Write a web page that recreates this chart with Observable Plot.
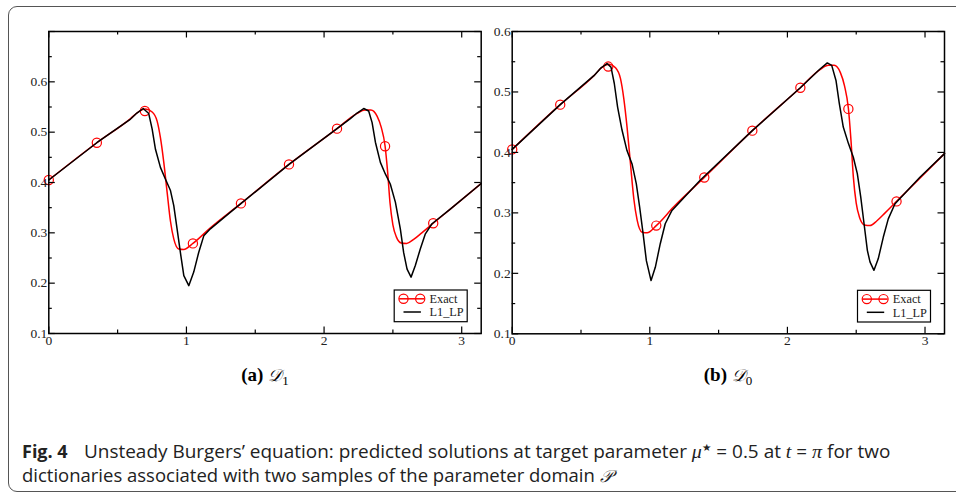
<!DOCTYPE html>
<html>
<head>
<meta charset="utf-8">
<script src="https://cdn.jsdelivr.net/npm/d3@7"></script>
<script src="https://cdn.jsdelivr.net/npm/@observablehq/plot@0.6"></script>
<style>
  html, body { margin: 0; padding: 0; background: #fff; }
  #page { position: relative; width: 956px; height: 497px; overflow: hidden; background: #fff; }
  #border { position: absolute; left: 7.5px; top: 5.5px; width: 990px; height: 486px;
            border: 1.3px solid #555; border-radius: 9px; box-sizing: border-box; }
  .panel { position: absolute; top: 0; }
  .sublabel { position: absolute; top: 364px; width: 300px; text-align: center;
              font-family: "Liberation Serif", serif; font-size: 19px; color: #000; }
  .sublabel b { font-weight: bold; }
  .script { font-family: "DejaVu Serif", "DejaVu Sans", serif; font-style: italic; font-size: 17px; }
  .capline { position: absolute; left: 22px; font-family: "Open Sans", sans-serif;
             font-size: 18px; line-height: 20px; height: 20px; color: #222; white-space: nowrap; }
  .rest { display: inline-block; transform-origin: 0 0; }
  .m { font-family: "Liberation Serif", serif; font-style: italic; font-size: 19px; }
</style>
</head>
<body>
<div id="page">
  <div id="border"></div>
  <div id="left" class="panel" style="left:0px"></div>
  <div id="right" class="panel" style="left:470px"></div>
  <div class="sublabel" style="left:115px"><b>(a)</b> <span class="script">𝒟</span><span style="font-size:13px;position:relative;top:4px">1</span></div>
  <div class="sublabel" style="left:578px"><b>(b)</b> <span class="script">𝒟</span><span style="font-size:13px;position:relative;top:4px">0</span></div>
  <div class="capline" style="top:441px"><b style="font-weight:700">Fig. 4</b><span style="display:inline-block;width:16px"></span><span class="rest" id="r1">Unsteady Burgers’ equation: predicted solutions at target parameter <span class="m">μ</span><span style="font-size:10px;position:relative;top:-7px">★</span> = 0.5 at <span class="m">t</span> = <span class="m">π</span> for two</span></div>
  <div class="capline" style="top:465px"><span class="rest" id="r2">dictionaries associated with two samples of the parameter domain <span class="script">𝒫</span></span></div>
</div>
<script>
// ---- data ----
const xMajor = [0, 1, 2, 3];
const xMinor = [0.5, 1.5, 2.5];

// Exact solution (red), shared by both panels
const exact = [
  [0, 0.405], [0.349, 0.479], [0.594, 0.527], [0.654, 0.541], [0.702, 0.546], [0.751, 0.540],
  [0.787, 0.522], [0.811, 0.489], [0.835, 0.441], [0.860, 0.380], [0.884, 0.323], [0.908, 0.288],
  [0.944, 0.268], [0.980, 0.267], [1.047, 0.279], [1.174, 0.310], [1.396, 0.3585], [1.745, 0.436],
  [2.094, 0.507], [2.237, 0.537], [2.298, 0.544], [2.340, 0.544], [2.385, 0.532], [2.415, 0.510],
  [2.443, 0.473], [2.462, 0.420], [2.479, 0.360], [2.500, 0.316], [2.525, 0.292], [2.560, 0.280],
  [2.600, 0.279], [2.651, 0.287], [2.710, 0.300], [2.793, 0.319], [2.917, 0.347], [3.1416, 0.398]
];
// Exact solution markers (circles)
const exactMarkers = [
  [0, 0.405], [0.349, 0.479], [0.698, 0.542], [1.047, 0.279], [1.396, 0.3585],
  [1.745, 0.436], [2.094, 0.507], [2.443, 0.472], [2.793, 0.319]
];
// L1_LP prediction, dictionary D1 (panel a)
const lpD1 = [
  [0, 0.405], [0.349, 0.479], [0.594, 0.526], [0.640, 0.538], [0.686, 0.547], [0.726, 0.537],
  [0.751, 0.506], [0.775, 0.466], [0.811, 0.430], [0.847, 0.407], [0.884, 0.384], [0.908, 0.354],
  [0.932, 0.308], [0.956, 0.261], [0.981, 0.215], [1.017, 0.195], [1.053, 0.222], [1.089, 0.261],
  [1.126, 0.294], [1.174, 0.308], [1.320, 0.341], [1.745, 0.436], [2.094, 0.507], [2.191, 0.527],
  [2.240, 0.538], [2.288, 0.547], [2.324, 0.542], [2.349, 0.519], [2.373, 0.480], [2.409, 0.440],
  [2.445, 0.417], [2.481, 0.397], [2.518, 0.361], [2.554, 0.308], [2.578, 0.261], [2.603, 0.228],
  [2.632, 0.212], [2.663, 0.235], [2.699, 0.268], [2.736, 0.298], [2.784, 0.318], [2.917, 0.347],
  [3.1416, 0.398]
];
// L1_LP prediction, dictionary D0 (panel b)
const lpD0 = [
  [0, 0.405], [0.349, 0.479], [0.594, 0.527], [0.641, 0.539], [0.689, 0.547], [0.718, 0.541],
  [0.742, 0.514], [0.766, 0.475], [0.798, 0.437], [0.834, 0.403], [0.871, 0.381], [0.902, 0.348],
  [0.926, 0.310], [0.951, 0.266], [0.975, 0.221], [1.009, 0.188], [1.040, 0.210], [1.076, 0.249],
  [1.112, 0.282], [1.161, 0.304], [1.366, 0.354], [1.745, 0.436], [2.094, 0.507], [2.237, 0.538],
  [2.290, 0.548], [2.322, 0.544], [2.353, 0.519], [2.377, 0.481], [2.406, 0.442], [2.443, 0.415],
  [2.479, 0.392], [2.508, 0.365], [2.533, 0.326], [2.557, 0.282], [2.581, 0.238], [2.600, 0.219],
  [2.629, 0.205], [2.660, 0.224], [2.697, 0.260], [2.733, 0.290], [2.782, 0.315], [2.963, 0.359],
  [3.1416, 0.398]
];
const yMajorA = [0.1, 0.2, 0.3, 0.4, 0.5, 0.6, 0.7];
const yMinorA = [0.15, 0.25, 0.35, 0.45, 0.55, 0.65];
const yLabelsA = [0.1, 0.2, 0.3, 0.4, 0.5, 0.6];
const yMajorB = [0.1, 0.2, 0.3, 0.4, 0.5, 0.6];
const yMinorB = [0.15, 0.25, 0.35, 0.45, 0.55];
const yLabelsB = [0.1, 0.2, 0.3, 0.4, 0.5, 0.6];
const legendLabels = ["Exact", "L1_LP"];

function panel({lp, yDomain, yMajor, yMinor, yLabels, width, mL, mR, mB}) {
  const H = 355, mT = 31;
  const fh = H - mT - mB, fw = width - mL - mR;
  const MJ = 6.5, MN = 3.5;
  const tk = {stroke: "#000", strokeWidth: 1.2};
  const svg = Plot.plot({
    width, height: H, marginLeft: mL, marginRight: mR, marginTop: mT, marginBottom: mB,
    x: {domain: [0, Math.PI]},
    y: {domain: yDomain},
    style: {background: "transparent", overflow: "visible", fontFamily: "Liberation Serif", fontSize: "13.5px", color: "#222"},
    marks: [
      Plot.line(exact, {x: d => d[0], y: d => d[1], stroke: "#ff0000", strokeWidth: 1.5, curve: "monotone-x"}),
      Plot.dot(exactMarkers, {x: d => d[0], y: d => d[1], r: 4.6, stroke: "#ff0000", strokeWidth: 1.2, fill: "none"}),
      Plot.line(lp, {x: d => d[0], y: d => d[1], stroke: "#000", strokeWidth: 1.5}),
      Plot.tickX(xMajor, {x: d => d, insetTop: fh - MJ, ...tk}),
      Plot.tickX(xMajor, {x: d => d, insetBottom: fh - MJ, ...tk}),
      Plot.tickX(xMinor, {x: d => d, insetTop: fh - MN, ...tk}),
      Plot.tickX(xMinor, {x: d => d, insetBottom: fh - MN, ...tk}),
      Plot.tickY(yMajor, {y: d => d, insetRight: fw - MJ, ...tk}),
      Plot.tickY(yMajor, {y: d => d, insetLeft: fw - MJ, ...tk}),
      Plot.tickY(yMinor, {y: d => d, insetRight: fw - MN, ...tk}),
      Plot.tickY(yMinor, {y: d => d, insetLeft: fw - MN, ...tk}),
      Plot.frame({stroke: "#000", strokeWidth: 1.5}),
      Plot.axisX({ticks: xMajor, tickSize: 0, tickPadding: 2, tickFormat: d => String(d),
                  fontSize: 13.5, fontFamily: "Liberation Serif", fill: "#222", label: null}),
      Plot.axisY({ticks: yLabels, tickSize: 0, tickPadding: 1.5, tickFormat: d3.format(".1f"),
                  fontSize: 13.5, fontFamily: "Liberation Serif", fill: "#222", label: null})
    ]
  });
  // legend box (inside frame, lower right)
  const g = d3.select(svg).append("g");
  const bx1 = width - mR - 13.5, by2 = H - mB - 11.3;
  const bx0 = bx1 - 73, by0 = by2 - 31.7;
  g.append("rect").attr("x", bx0).attr("y", by0).attr("width", bx1 - bx0).attr("height", by2 - by0)
    .attr("fill", "#fff").attr("stroke", "#000").attr("stroke-width", 1.2);
  const yR = by0 + 8.8, yK = by0 + 22;
  g.append("line").attr("x1", bx0 + 5).attr("x2", bx0 + 30).attr("y1", yR).attr("y2", yR)
    .attr("stroke", "#ff0000").attr("stroke-width", 1.5);
  [bx0 + 9.3, bx0 + 26].forEach(cx => g.append("circle").attr("cx", cx).attr("cy", yR).attr("r", 4.6)
    .attr("fill", "none").attr("stroke", "#ff0000").attr("stroke-width", 1.2));
  g.append("line").attr("x1", bx0 + 9.3).attr("x2", bx0 + 26.7).attr("y1", yK).attr("y2", yK)
    .attr("stroke", "#000").attr("stroke-width", 1.5);
  legendLabels.forEach((t, i) => g.append("text").attr("x", bx0 + 35.3).attr("y", i ? yK : yR).attr("dy", "0.35em")
    .style("font-family", "Liberation Serif").style("font-size", "12.3px").style("text-anchor", "start")
    .attr("fill", "#222").text(t));
  return svg;
}

document.getElementById("left").append(panel({
  lp: lpD1, yDomain: [0.1, 0.7], yMajor: yMajorA, yMinor: yMinorA, yLabels: yLabelsA,
  width: 490, mL: 48.3, mR: 9.3, mB: 22
}));
document.getElementById("right").append(panel({
  lp: lpD0, yDomain: [0.1, 0.6], yMajor: yMajorB, yMinor: yMinorB, yLabels: yLabelsB,
  width: 486, mL: 41.7, mR: 12, mB: 21.7
}));

// fit caption text widths to the reference line lengths
const r1 = document.getElementById("r1"), r2 = document.getElementById("r2");
const s1 = (890 - r1.getBoundingClientRect().left) / r1.getBoundingClientRect().width;
const s2 = (612 - r2.getBoundingClientRect().left) / r2.getBoundingClientRect().width;
r1.style.transform = `scaleX(${s1})`;
r2.style.transform = `scaleX(${s2})`;
</script>
</body>
</html>
